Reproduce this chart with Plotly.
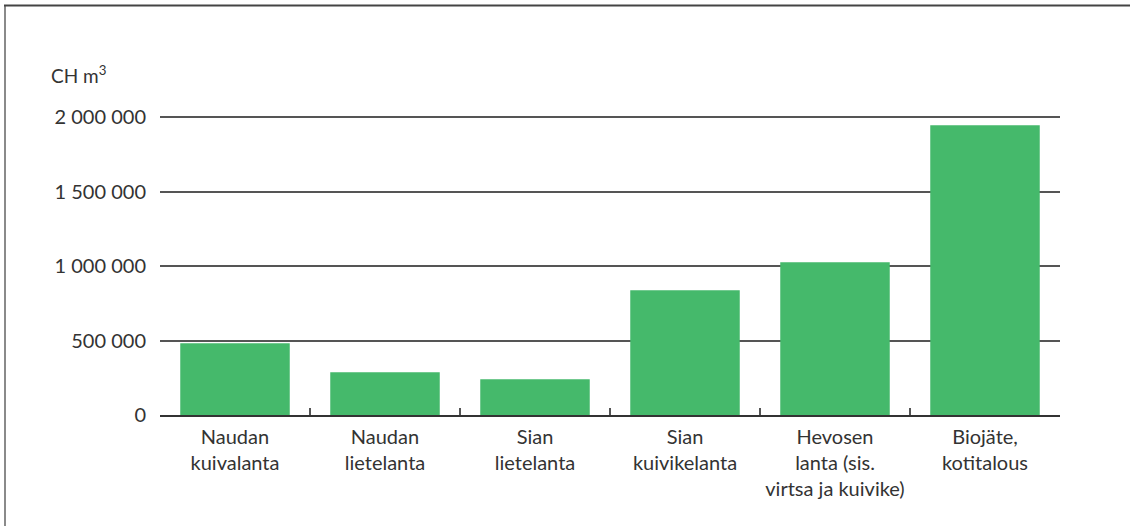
import plotly.graph_objects as go

# data
categories = ["Naudan<br>kuivalanta", "Naudan<br>lietelanta", "Sian<br>lietelanta",
              "Sian<br>kuivikelanta", "Hevosen<br>lanta (sis.<br>virtsa ja kuivike)",
              "Biojäte,<br>kotitalous"]
values = [481000, 287000, 240000, 837000, 1025000, 1944000]
tick_vals = [0, 500000, 1000000, 1500000, 2000000]
tick_text = ["0", "500 000", "1 000 000", "1 500 000", "2 000 000"]

W, H = 1130, 526
L, R, T, B = 160, 70, 112, 111
pw, ph = W - L - R, H - T - B
ymax = 2000000 * (415 - 112) / (415 - 117)

def px(x):
    return (x - L) / pw

def py(y):
    return (H - B - y) / ph

fig = go.Figure(go.Bar(x=categories, y=values, marker_color="#45b96b",
                       marker_line_width=0, width=0.73))

# frame lines (left and top) around the chart box
fig.add_shape(type="line", xref="paper", yref="paper",
              x0=px(5), x1=px(5), y0=py(5), y1=py(540),
              line=dict(color="#8a8a8a", width=2))
fig.add_shape(type="line", xref="paper", yref="paper",
              x0=px(4), x1=px(1140), y0=py(5.5), y1=py(5.5),
              line=dict(color="#444444", width=2))

fig.add_annotation(text="CH m<sup>3</sup>", xref="paper", yref="paper",
                   x=px(49), y=py(74), xanchor="left", yanchor="middle",
                   showarrow=False, font=dict(size=19, color="#333333"))

fig.update_layout(
    width=W, height=H,
    margin=dict(l=L, r=R, t=T, b=B),
    paper_bgcolor="white", plot_bgcolor="white",
    font=dict(family="Lato, 'Open Sans', sans-serif", size=20, color="#333333"),
    showlegend=False,
)
fig.update_xaxes(showline=True, linecolor="#333333", linewidth=2,
                 ticks="inside", tickson="boundaries", ticklen=7, tickwidth=2,
                 tickcolor="#555555", showgrid=False, ticklabelstandoff=3)
fig.update_yaxes(range=[0, ymax], tickvals=tick_vals, ticktext=tick_text,
                 showgrid=True, gridcolor="#555555", gridwidth=1.5,
                 zeroline=False, showline=False, ticks="",
                 ticklabelstandoff=13)

# drop the browser's default page margin so the figure sits at the corner
fig.write_html("out.html", config={"displayModeBar": False},
               post_script="document.body.style.margin='0';")
